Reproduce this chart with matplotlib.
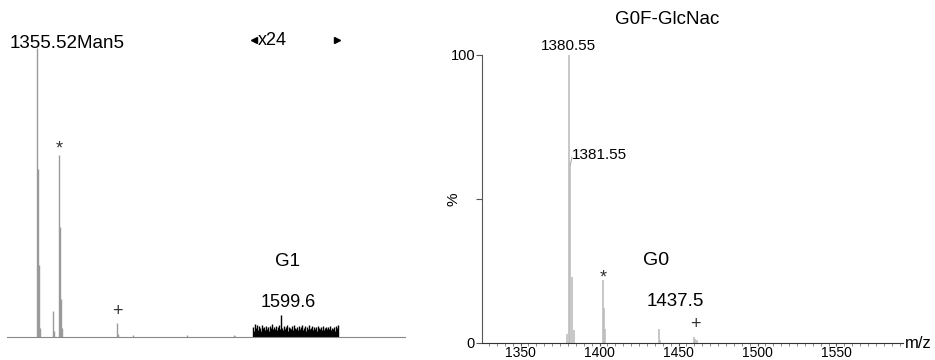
import numpy as np
import matplotlib
matplotlib.use("Agg")
import matplotlib.pyplot as plt

plt.rcParams['font.family'] = ['Liberation Sans', 'DejaVu Sans']

# left spectrum (Man5 sample), relative intensity in %
left_mz = [1355.52, 1356.2, 1357.2, 1358.2, 1371.6, 1372.4, 1377.8, 1378.5, 1379.3, 1380.2,
           1435.5, 1436.5, 1451.0, 1505.5, 1552.0, 1553.0]
left_int = [100, 58, 25, 3, 9, 2, 63, 38, 13, 3,
            5, 1.2, 0.6, 0.8, 0.6, 0.4]

# magnified (x24) window around G1, drawn as a dense profile
zoom_start = 1571.5
zoom_int = [3.5, 2.0, 4.5, 3.0, 4.0, 2.5, 3.8, 3.2, 2.2, 4.2, 3.0, 3.6, 2.4, 3.9, 2.8, 3.4,
            2.1, 3.7, 3.1, 4.4, 2.6, 3.3, 2.9, 3.8, 2.3, 3.5, 4.1, 2.7, 7.5, 3.2,
            2.5, 3.9, 2.8, 3.4, 4.3, 2.2, 3.6, 3.0, 2.6, 3.8, 2.4, 4.0, 3.1, 2.7,
            3.5, 2.3, 3.9, 2.9, 3.3, 4.2, 2.5, 3.0, 3.7, 2.2, 3.4, 2.8, 4.1, 2.6,
            3.2, 3.8, 2.4, 3.5, 2.9, 3.6, 2.1, 3.9, 3.0, 2.7, 3.3, 2.5, 3.7, 2.3,
            3.1, 3.6, 2.6, 3.4, 2.8, 3.8, 2.4, 3.2, 2.9, 3.5, 2.2, 3.7, 3.0, 4.0]

# right spectrum (G0F-GlcNac sample)
right_mz = [1379.55, 1380.55, 1381.55, 1382.55, 1383.55,
            1401.9, 1402.6, 1403.6, 1437.5, 1438.5, 1459.5, 1460.5, 1461.5]
right_int = [3, 100, 62, 23, 4.5,
             22, 12, 5, 5, 1, 2, 1.5, 1]
right_xticks = [1350, 1400, 1450, 1500, 1550]

fig = plt.figure(figsize=(9.35, 3.6), dpi=100)

# ---- left panel ----
axl = fig.add_axes([7 / 935, 23 / 360, 398 / 935, 289 / 360])
axl.vlines(left_mz, 0, left_int, color='#9a9a9a', lw=1.0)
zoom_mz = zoom_start + np.arange(len(zoom_int))
axl.vlines(zoom_mz, 0, zoom_int, color='black', lw=1.0)
axl.set_xlim(1325.5, 1723.5)
axl.set_ylim(0, 100)
for s in ['top', 'left', 'right']:
    axl.spines[s].set_visible(False)
axl.spines['bottom'].set_color('#888888')
axl.set_xticks([])
axl.set_yticks([])
axl.patch.set_alpha(0)

axl.text(1328.5, 101.5, '1355.52Man5', fontsize=13.5, ha='left', va='center')
axl.text(1377.8, 65, '*', fontsize=13, ha='center', va='center', color='#333333')
axl.text(1435.5, 8.7, '+', fontsize=13, ha='center', va='center', color='#333333')
axl.plot([1572.5], [102.8], marker='<', color='black', ms=4, clip_on=False)
axl.plot([1655.5], [102.8], marker='>', color='black', ms=4, clip_on=False)
axl.text(1576.0, 102.5, 'x24', fontsize=13, ha='left', va='center')
axl.text(1606.5, 26, 'G1', fontsize=13.5, ha='center', va='center')
axl.text(1606.5, 12, '1599.6', fontsize=13, ha='center', va='center')

# ---- right panel ----
axr = fig.add_axes([482 / 935, 17 / 360, 421 / 935, 288 / 360])
axr.vlines(right_mz, 0, right_int, color='#bdbdbd', lw=1.2)
axr.set_xlim(1325.6, 1592.1)
axr.set_ylim(0, 100)
for s in ['top', 'right']:
    axr.spines[s].set_visible(False)
axr.spines['left'].set_color('#555555')
axr.spines['bottom'].set_color('#333333')
axr.set_xticks(right_xticks)
axr.set_xticks(np.arange(1330, 1592, 5), minor=True)
axr.tick_params(axis='x', which='major', direction='out', length=2, labelsize=10, pad=0, color='#555555')
axr.tick_params(axis='x', which='minor', direction='out', length=2, color='#777777')
axr.set_yticks([0, 50, 100])
axr.set_yticklabels(['0', '', '100'])
axr.tick_params(axis='y', direction='out', length=4, labelsize=10.5, pad=1, color='#555555')
axr.set_ylabel('%', fontsize=11)
axr.yaxis.set_label_coords(-0.05, 0.5)

axr.text(1380.55, 103, '1380.55', fontsize=11, ha='center', va='center')
axr.plot([1381.55, 1382.6], [62, 64.5], color='#aaaaaa', lw=0.8)
axr.text(1382.5, 65.3, '1381.55', fontsize=11, ha='left', va='center')
axr.text(1402.2, 22.5, '*', fontsize=13, ha='center', va='center', color='#333333')
axr.text(1435.8, 28.8, 'G0', fontsize=14, ha='center', va='center')
axr.text(1447.8, 14.3, '1437.5', fontsize=13.5, ha='center', va='center')
axr.text(1460.4, 6.3, '+', fontsize=13, ha='center', va='center', color='#333333')
axr.text(1.004, 0.0, 'm/z', transform=axr.transAxes, fontsize=12, ha='left', va='center')

fig.text(667 / 935, 1 - 20 / 360, 'G0F-GlcNac', fontsize=13.5, ha='center', va='center')

fig.savefig('out.png', dpi=100)
